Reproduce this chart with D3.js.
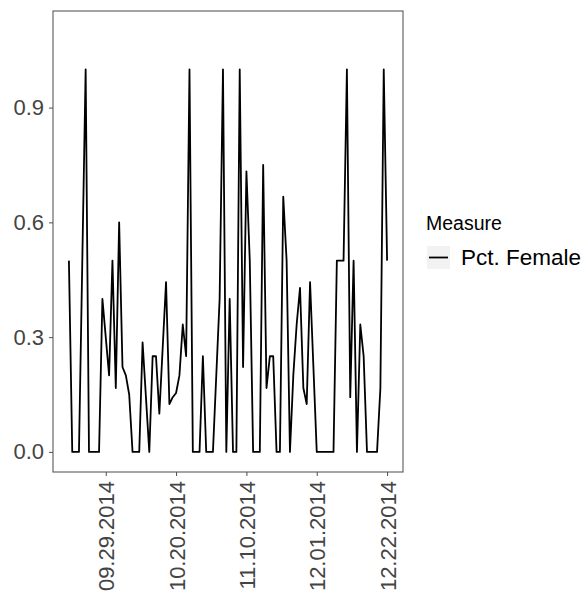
<!DOCTYPE html>
<html>
<head>
<meta charset="utf-8">
<script src="https://cdn.jsdelivr.net/npm/d3@7"></script>
<style>
  body { margin: 0; background: #fff; }
  text { font-family: "Liberation Sans", Arial, sans-serif; }
</style>
</head>
<body>
<div id="chart"></div>
<script>
// daily share of female attendees (days with no record are left out)
const dates = [
    "2014-09-18", "2014-09-19", "2014-09-20", "2014-09-21", "2014-09-23", "2014-09-24",
    "2014-09-25", "2014-09-26", "2014-09-27", "2014-09-28", "2014-09-30",
    "2014-10-01", "2014-10-02", "2014-10-03", "2014-10-04", "2014-10-05", "2014-10-06",
    "2014-10-07", "2014-10-08", "2014-10-09", "2014-10-10", "2014-10-12", "2014-10-13",
    "2014-10-14", "2014-10-15", "2014-10-17", "2014-10-18", "2014-10-19", "2014-10-20",
    "2014-10-21", "2014-10-22", "2014-10-23", "2014-10-24", "2014-10-25", "2014-10-26",
    "2014-10-27", "2014-10-28", "2014-10-29", "2014-10-30", "2014-10-31",
    "2014-11-02", "2014-11-03", "2014-11-04", "2014-11-05", "2014-11-06", "2014-11-07",
    "2014-11-08", "2014-11-09", "2014-11-10", "2014-11-11", "2014-11-12", "2014-11-13",
    "2014-11-14", "2014-11-15", "2014-11-16", "2014-11-17", "2014-11-18", "2014-11-19",
    "2014-11-20", "2014-11-21", "2014-11-22", "2014-11-23", "2014-11-24", "2014-11-25",
    "2014-11-26", "2014-11-27", "2014-11-28", "2014-11-29", "2014-11-30",
    "2014-12-01", "2014-12-02", "2014-12-03", "2014-12-04", "2014-12-05", "2014-12-06",
    "2014-12-07", "2014-12-08", "2014-12-09", "2014-12-10", "2014-12-11", "2014-12-12",
    "2014-12-13", "2014-12-14", "2014-12-15", "2014-12-16", "2014-12-17", "2014-12-18",
    "2014-12-19", "2014-12-20", "2014-12-21", "2014-12-22"
];
const pctFemale = [
    0.5, 0, 0, 0, 1, 0,
    0, 0, 0, 0.4, 0.2,
    0.5, 0.167, 0.6, 0.222, 0.2, 0.15,
    0, 0, 0, 0.286, 0, 0.25,
    0.25, 0.1, 0.444, 0.125, 0.143, 0.154,
    0.2, 0.333, 0.25, 1, 0, 0,
    0, 0.25, 0, 0, 0,
    0.4, 1, 0, 0.4, 0, 0,
    1, 0.222, 0.733, 0.5, 0, 0,
    0, 0.75, 0.167, 0.25, 0.25, 0,
    0, 0.667, 0.5, 0, 0.2, 0.333,
    0.429, 0.167, 0.125, 0.444, 0.222,
    0, 0, 0, 0, 0, 0,
    0.5, 0.5, 0.5, 1, 0.143, 0.5,
    0, 0.333, 0.25, 0, 0, 0,
    0, 0.167, 1, 0.5
];
const xTicks = ["2014-09-29", "2014-10-20", "2014-11-10", "2014-12-01", "2014-12-22"];
const yTicks = [0, 0.3, 0.6, 0.9];
const seriesName = "Measure";
const seriesLabel = "Pct. Female";

const W = 587, H = 595;
const margin = {top: 11, right: 184, bottom: 123, left: 53};
const width = W - margin.left - margin.right;
const height = H - margin.top - margin.bottom;

const parse = d3.utcParse("%Y-%m-%d");
const fmt = d3.utcFormat("%m.%d.%Y");
const data = dates.map((d, i) => ({date: parse(d), value: pctFemale[i]}));

const svg = d3.select("#chart").append("svg")
    .attr("width", W)
    .attr("height", H);

const g = svg.append("g")
    .attr("transform", `translate(${margin.left},${margin.top})`);

// ggplot style 5% padding on the date range
const ext = d3.extent(data, d => d.date);
const pad = (ext[1] - ext[0]) * 0.05;
const x = d3.scaleUtc()
    .domain([new Date(+ext[0] - pad), new Date(+ext[1] + pad)])
    .range([0, width]);

const y = d3.scaleLinear()
    .domain([-0.0525, 1.1525])
    .range([height, 0]);

const line = d3.line()
    .x(d => x(d.date))
    .y(d => y(d.value));

g.append("path")
    .datum(data)
    .attr("fill", "none")
    .attr("stroke", "#000")
    .attr("stroke-width", 1.8)
    .attr("stroke-linejoin", "round")
    .attr("d", line);

// panel border
g.append("rect")
    .attr("width", width)
    .attr("height", height)
    .attr("fill", "none")
    .attr("stroke", "#595959")
    .attr("stroke-width", 1.1);

const yAxis = g.append("g")
    .call(d3.axisLeft(y).tickValues(yTicks).tickFormat(d3.format(".1f")).tickSize(4).tickPadding(5));
yAxis.select(".domain").remove();
yAxis.selectAll("line").attr("stroke", "#4d4d4d");
yAxis.selectAll("text")
    .attr("fill", "#444")
    .style("font-size", "22px");

const xAxis = g.append("g")
    .attr("transform", `translate(0,${height})`)
    .call(d3.axisBottom(x).tickValues(xTicks.map(parse)).tickFormat(fmt).tickSize(4));
xAxis.select(".domain").remove();
xAxis.selectAll("line").attr("stroke", "#4d4d4d");
xAxis.selectAll("text")
    .attr("fill", "#444")
    .style("font-size", "22px")
    .attr("text-anchor", "end")
    .attr("transform", "rotate(-90)")
    .attr("x", -9)
    .attr("y", 0)
    .attr("dy", "0.36em");

// legend
const legend = svg.append("g")
    .attr("transform", "translate(426,230)");

legend.append("text")
    .attr("x", 0)
    .attr("y", 0)
    .style("font-size", "19.5px")
    .attr("fill", "#000")
    .text(seriesName);

legend.append("rect")
    .attr("x", 1)
    .attr("y", 16)
    .attr("width", 23)
    .attr("height", 23)
    .attr("fill", "#f2f2f2");

legend.append("line")
    .attr("x1", 3)
    .attr("x2", 22)
    .attr("y1", 27.5)
    .attr("y2", 27.5)
    .attr("stroke", "#000")
    .attr("stroke-width", 1.8);

legend.append("text")
    .attr("x", 35)
    .attr("y", 35)
    .style("font-size", "22.5px")
    .attr("fill", "#000")
    .text(seriesLabel);
</script>
</body>
</html>
